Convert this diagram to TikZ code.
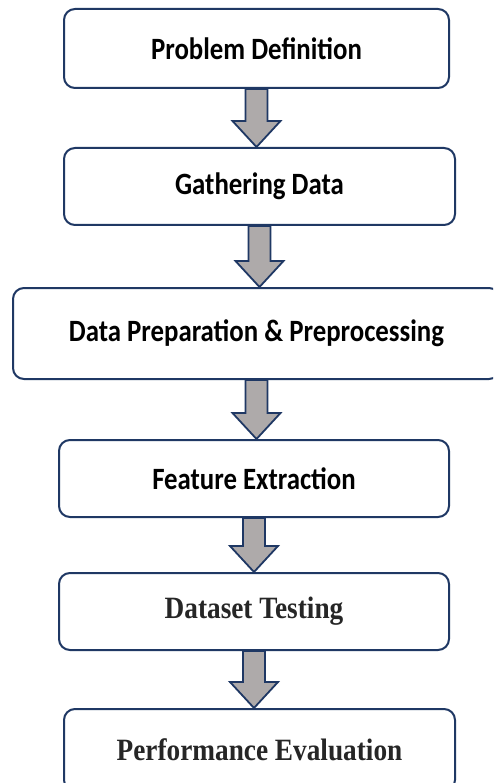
\documentclass[tikz,border=0pt]{standalone}
\usepackage{xcolor}
\usepackage{tikz}
\usepackage{fontspec}
\usetikzlibrary{shapes,arrows,positioning,calc}
\definecolor{boxnavy}{HTML}{1F3864}
\definecolor{arrowgray}{HTML}{AEAAAA}
\newfontfamily\stagefont[FakeStretch=0.865]{Carlito}
\newfontfamily\stageserif[FakeStretch=0.88]{Liberation Serif}

\begin{document}
\begin{tikzpicture}[x=1pt,y=-1pt,
        stage/.style={draw=boxnavy, line width=2pt, rounded corners=11pt, fill=white, inner sep=0pt,
            font=\stagefont\bfseries\fontsize{31}{36}\selectfont},
        serifstage/.style={stage, text=black!85, font=\stageserif\bfseries\fontsize{31}{36}\selectfont},
        downarrow/.style={draw=boxnavy, line width=1.8pt, fill=arrowgray, line join=miter}]
        \clip (0,0) rectangle (493,783);
        \fill[white] (0,0) rectangle (493,783);

        % Problem Definition
        \node[stage, minimum width=385pt, minimum height=79pt] (probdef) at (256.5,48.5) {Problem Definition};

        % Gathering Data
        \node[stage, minimum width=391pt, minimum height=77pt] (gather) at (259.5,186.5) {Gathering Data};

        % Data Preparation (box runs off the right edge)
        \node[stage, minimum width=487pt, minimum height=91pt] (dataprep) at (256.5,333.5) {Data Preparation \& Preprocessing};

        % Feature Extraction
        \node[stage, minimum width=390pt, minimum height=77pt] (feature) at (254,478.5) {Feature Extraction};

        % Dataset Testing
        \node[serifstage, minimum width=390pt, minimum height=77pt] (testing) at (254,611.5) {Dataset Testing};

        % Performance Evaluation (cut at the bottom)
        \node[serifstage, minimum width=391pt, minimum height=82pt] (perfeval) at (259.5,750) {Performance Evaluation};

        % Block arrows between stages
        \foreach \a/\b in {probdef/gather, gather/dataprep, dataprep/feature, feature/testing, testing/perfeval}
            \draw[downarrow] let \p1=(\a.south), \p2=(\b.north) in
                (\x1-11,\y1) -- (\x1-11,\y2+26) -- (\x1-24,\y2+26) -- (\x1,\y2)
                -- (\x1+24,\y2+26) -- (\x1+11,\y2+26) -- (\x1+11,\y1) -- cycle;
    \end{tikzpicture}
\end{document}
